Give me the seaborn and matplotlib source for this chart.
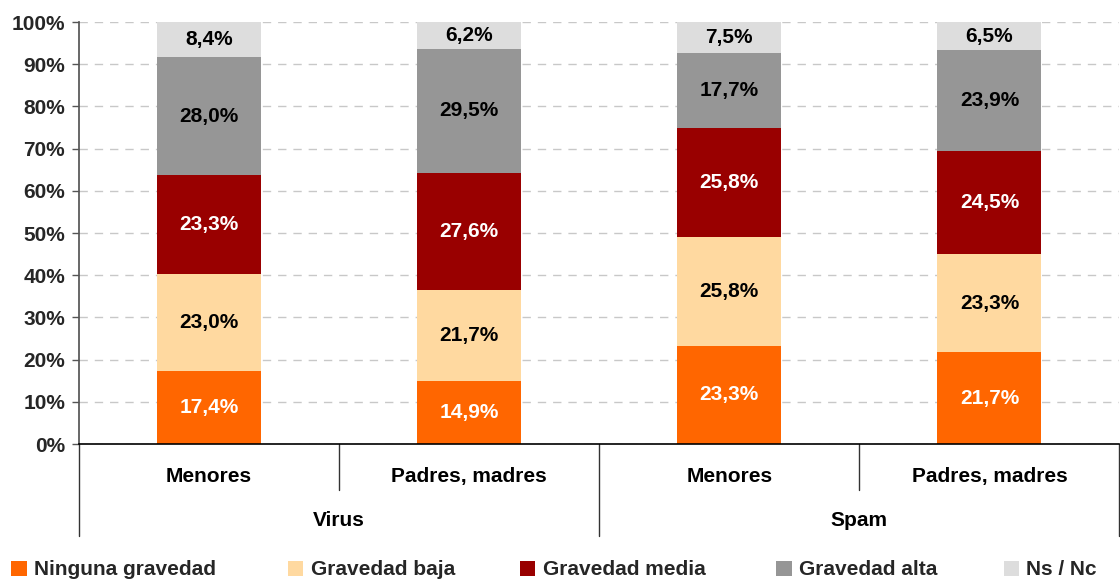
import numpy as np
import pandas as pd
import matplotlib
matplotlib.use("Agg")
import matplotlib.pyplot as plt
import matplotlib.transforms as mtransforms
from matplotlib.patches import Patch
import seaborn as sns

# Data: share of answers by perceived severity (percent)
groups = ["Virus", "Virus", "Spam", "Spam"]
respondents = ["Menores", "Padres, madres", "Menores", "Padres, madres"]
series = ["Ninguna gravedad", "Gravedad baja", "Gravedad media", "Gravedad alta", "Ns / Nc"]
ninguna = [17.4, 14.9, 23.3, 21.7]
baja = [23.0, 21.7, 25.8, 23.3]
media = [23.3, 27.6, 25.8, 24.5]
alta = [28.0, 29.5, 17.7, 23.9]
nsnc = [8.4, 6.2, 7.5, 6.5]

colors = ["#FF6600", "#FFD9A0", "#990000", "#969696", "#DDDDDD"]
label_colors = ["white", "black", "white", "black", "black"]

sns.set_theme(style="white")
plt.rcParams["font.family"] = ["Liberation Sans", "DejaVu Sans"]
plt.rcParams["font.weight"] = "bold"

FS = 15

values = np.array([ninguna, baja, media, alta, nsnc])
keys = [f"{g}|{r}" for g, r in zip(groups, respondents)]
df = pd.DataFrame({"key": keys})
cum = np.cumsum(values, axis=0)
for i, name in enumerate(series):
    df[name] = values[i]
    df[name + "_top"] = cum[i]

fig = plt.figure(figsize=(11.2, 5.84), dpi=100)
ax = fig.add_axes([0.0705, 0.2397, 0.9290, 0.7226])

# Stacked bars: draw cumulative totals from the top segment down
for i in range(len(series) - 1, -1, -1):
    sns.barplot(data=df, x="key", y=series[i] + "_top", order=keys,
                color=colors[i], saturation=1, width=0.4, ax=ax,
                edgecolor="none", linewidth=0)

# Segment value labels
for i in range(len(series)):
    for j in range(len(keys)):
        bottom = cum[i][j] - values[i][j]
        mid = (bottom + min(cum[i][j], 100)) / 2
        ax.text(j, mid, f"{values[i][j]:.1f}%".replace(".", ","),
                ha="center", va="center", fontsize=FS, fontweight="bold",
                color=label_colors[i])

ax.set_ylim(0, 100)
ax.set_xlim(-0.5, 3.5)
ax.set_yticks(np.arange(0, 101, 10))
ax.set_yticklabels([f"{v}%" for v in range(0, 101, 10)], fontsize=FS, fontweight="bold")
ax.set_xticks([])
ax.set_xlabel("")
ax.set_ylabel("")
ax.tick_params(axis="y", which="both", left=True, length=5, width=1, color="#555555", pad=5)
ax.yaxis.grid(True, linestyle=(0, (6, 5)), color="#C8C8C8", linewidth=1)
ax.set_axisbelow(True)
for s in ["top", "right"]:
    ax.spines[s].set_visible(False)
ax.spines["left"].set_color("#555555")
ax.spines["bottom"].set_color("black")
ax.spines["bottom"].set_linewidth(1.2)

# Two-level category axis
trans = mtransforms.blended_transform_factory(ax.transData, ax.transAxes)
for x, depth in [(-0.5, -0.218), (0.5, -0.109), (1.5, -0.218), (2.5, -0.109), (3.5, -0.218)]:
    ax.plot([x, x], [0, depth], transform=trans, color="#333333", linewidth=1, clip_on=False)
for j, r in enumerate(respondents):
    ax.text(j, -0.076, r, transform=trans, ha="center", va="center",
            fontsize=FS, fontweight="bold", color="black")
for g, xc in [("Virus", 0.5), ("Spam", 2.5)]:
    ax.text(xc, -0.182, g, transform=trans, ha="center", va="center",
            fontsize=FS, fontweight="bold", color="black")

# Legend along the bottom, one entry per slot
slots = [0.010, 0.257, 0.464, 0.693, 0.896]
for c, s, x0 in zip(colors, series, slots):
    leg = fig.legend(handles=[Patch(facecolor=c, edgecolor="none", label=s)],
                     loc="center left", bbox_to_anchor=(x0, 0.024), frameon=False,
                     fontsize=FS, handlelength=0.75, handleheight=0.75,
                     handletextpad=0.35, borderpad=0, borderaxespad=0)
    for t in leg.get_texts():
        t.set_fontweight("bold")

fig.savefig("out.png", dpi=100)
